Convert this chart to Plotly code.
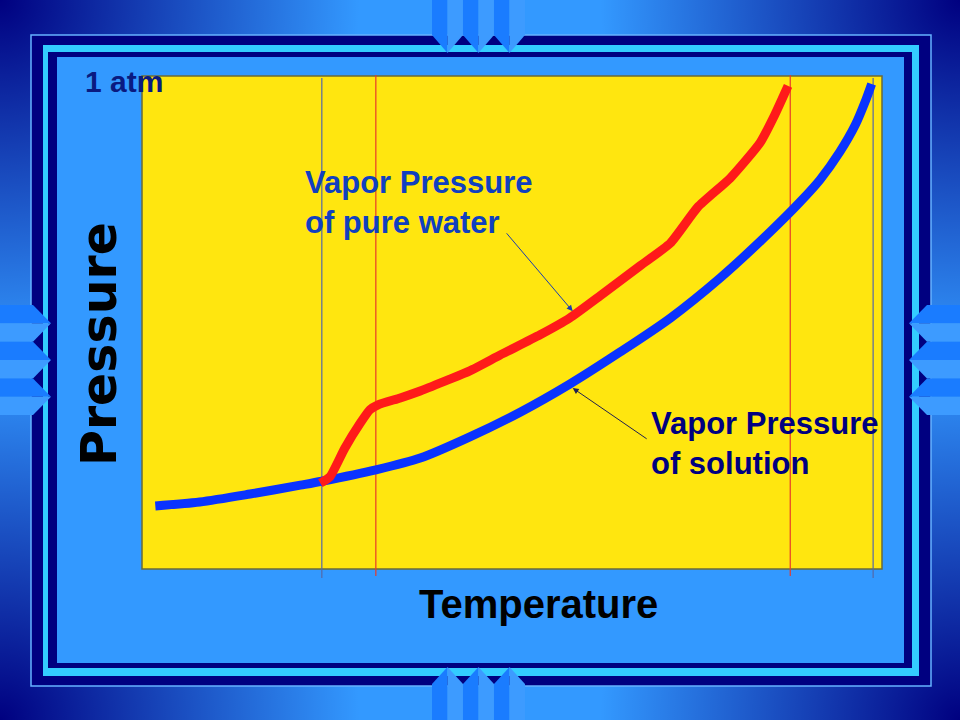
import base64
import plotly.graph_objects as go

# ---------------- data ----------------
solution_T = [1.8, 7.8, 14.6, 21.4, 24.3, 31.6, 37.6, 44.3, 51.1, 57.8, 64.6,
              71.4, 78.1, 84.9, 88.9, 91.6, 94.3, 96.4, 97.7, 98.6]
solution_P = [12.8, 13.6, 15.2, 17.0, 17.8, 20.1, 22.5, 26.8, 31.8, 37.5, 44.0,
              50.9, 59.0, 68.4, 74.4, 78.9, 84.6, 90.1, 94.7, 98.4]

water_T = [24.1, 25.4, 27.4, 29.5, 30.8, 31.9, 34.9, 37.6, 41.6, 44.3, 48.4,
           53.8, 57.8, 61.9, 67.3, 71.4, 75.1, 79.5, 83.5, 85.5, 87.3]
water_P = [17.4, 18.7, 24.5, 29.6, 32.3, 33.3, 34.7, 36.1, 38.5, 40.2, 43.4,
           47.5, 50.9, 55.4, 61.5, 66.1, 73.4, 79.3, 86.4, 92.1, 98.0]

gray_marks_T = [24.3, 98.8]   # thin gray-blue vertical guides
red_marks_T = [31.6, 87.6]    # thin red vertical guides

label_top = "1 atm"
label_water = "Vapor Pressure<br>of pure water"
label_solution = "Vapor Pressure<br>of solution"
x_title = "Temperature"
y_title = "Pressure"

# arrow (head, tail) in data units
arrow_water = dict(head=(58.2, 52.3), tail=(49.1, 68.4))
arrow_solution = dict(head=(58.2, 36.7), tail=(68.4, 26.2))

# ---------------- layout helpers ----------------
W, H = 960, 720
def px(x):
    return x / W
def py(y):
    return 1 - y / H

NAVY = "#000080"
CYAN = "#33CCFF"
PANEL = "#3399FF"
TAB_DARK = "#1A7CFF"
TAB_LIGHT = "#3D9BFF"

# background gradient (light centre, navy corners)
corners = "".join(
    f'<circle cx="{cx}" cy="{cy}" r="360" fill="url(#g)"/>'
    for cx, cy in [(0, 0), (W, 0), (0, H), (W, H)]
)
svg = (
    f'<svg xmlns="http://www.w3.org/2000/svg" width="{W}" height="{H}" viewBox="0 0 {W} {H}">'
    '<defs><radialGradient id="g" cx="0.5" cy="0.5" r="0.5">'
    '<stop offset="0" stop-color="#000080" stop-opacity="1"/>'
    '<stop offset="0.5" stop-color="#000080" stop-opacity="0.5"/>'
    '<stop offset="1" stop-color="#000080" stop-opacity="0"/>'
    '</radialGradient></defs>'
    f'<rect width="{W}" height="{H}" fill="#3399FF"/>' + corners + '</svg>'
)
bg_uri = "data:image/svg+xml;base64," + base64.b64encode(svg.encode()).decode()

shapes = []
def rect(x0, y0, x1, y1, fill, line_color=None, lw=0):
    shapes.append(dict(type="rect", xref="paper", yref="paper",
                       x0=px(x0), x1=px(x1), y0=py(y1), y1=py(y0),
                       fillcolor=fill, line=dict(color=line_color or fill, width=lw),
                       layer="below"))

def poly(pts, fill):
    path = "M " + " L ".join(f"{px(x):.5f},{py(y):.5f}" for x, y in pts) + " Z"
    shapes.append(dict(type="path", xref="paper", yref="paper", path=path,
                       fillcolor=fill, line=dict(width=0), layer="below"))

# frame
rect(31, 35, 931, 686, NAVY, "#66B2FF", 1.5)
rect(43, 45, 919, 676, CYAN)
rect(48, 52, 912, 668, NAVY)
rect(57, 57, 904, 663, PANEL)

# tabs top / bottom
for i in range(3):
    x0 = 432 + 31 * i
    xm = x0 + 15.5
    x1 = x0 + 31
    poly([(x0, 0), (xm, 0), (xm, 53), (x0, 35)], TAB_DARK)
    poly([(xm, 0), (x1, 0), (x1, 35), (xm, 53)], TAB_LIGHT)
    poly([(x0, 720), (x0, 684), (xm, 667), (xm, 720)], TAB_DARK)
    poly([(xm, 720), (xm, 667), (x1, 684), (x1, 720)], TAB_LIGHT)

# tabs left / right
for i in range(3):
    y0 = 305 + 36.7 * i
    ym = y0 + 18.35
    y1 = y0 + 36.7
    poly([(0, y0), (33, y0), (51, ym), (0, ym)], TAB_DARK)
    poly([(0, ym), (51, ym), (33, y1), (0, y1)], TAB_LIGHT)
    poly([(960, y0), (927, y0), (909, ym), (960, ym)], TAB_DARK)
    poly([(960, ym), (909, ym), (927, y1), (960, y1)], TAB_LIGHT)

# plot area (yellow)
shapes.append(dict(type="rect", xref="x domain", yref="y domain", x0=0, x1=1, y0=0, y1=1,
                   fillcolor="#FFE60F", line=dict(color="#6B6B3A", width=1.5), layer="below"))

# vertical guides
for t in gray_marks_T:
    shapes.append(dict(type="line", xref="x", yref="paper", x0=t, x1=t,
                       y0=py(578), y1=py(78), line=dict(color="#5468A8", width=1.2),
                       layer="below"))
for t in red_marks_T:
    shapes.append(dict(type="line", xref="x", yref="paper", x0=t, x1=t,
                       y0=py(576), y1=py(75), line=dict(color="#E83A2A", width=1.2),
                       layer="below"))

fig = go.Figure()
fig.add_trace(go.Scatter(x=solution_T, y=solution_P, mode="lines",
                         line=dict(color="#0A33FF", width=9, shape="spline", smoothing=0.8),
                         showlegend=False, hoverinfo="skip"))
fig.add_trace(go.Scatter(x=water_T, y=water_P, mode="lines",
                         line=dict(color="#FF1A1A", width=9, shape="spline", smoothing=0.5),
                         showlegend=False, hoverinfo="skip"))

FONT = "Liberation Sans, Arial, sans-serif"
annotations = [
    dict(xref="paper", yref="paper", x=px(83), y=py(81), xanchor="left", yanchor="middle",
         text=f"<b>{label_top}</b>", showarrow=False,
         font=dict(family=FONT, size=30, color="#0A1A80")),
    dict(xref="paper", yref="paper", x=px(303), y=py(202), xanchor="left", yanchor="middle",
         text=f"<b>{label_water}</b>", showarrow=False, align="left",
         font=dict(family=FONT, size=31, color="#1040C0")),
    dict(xref="paper", yref="paper", x=px(649), y=py(443), xanchor="left", yanchor="middle",
         text=f"<b>{label_solution}</b>", showarrow=False, align="left",
         font=dict(family=FONT, size=31, color="#000080")),
    dict(xref="paper", yref="paper", x=px(538), y=py(604), xanchor="center", yanchor="middle",
         text=f"<b>{x_title}</b>", showarrow=False,
         font=dict(family=FONT, size=40, color="#000000")),
    dict(xref="paper", yref="paper", x=px(99), y=py(344), xanchor="center", yanchor="middle",
         text=f"<b>{y_title}</b>", showarrow=False, textangle=-90,
         font=dict(family="DejaVu Sans, sans-serif", size=49, color="#000000")),
    dict(x=arrow_water["head"][0], y=arrow_water["head"][1], xref="x", yref="y",
         ax=arrow_water["tail"][0], ay=arrow_water["tail"][1], axref="x", ayref="y",
         text="", showarrow=True, arrowhead=2, arrowsize=1.2, arrowwidth=1,
         arrowcolor="#1A3CB0"),
    dict(x=arrow_solution["head"][0], y=arrow_solution["head"][1], xref="x", yref="y",
         ax=arrow_solution["tail"][0], ay=arrow_solution["tail"][1], axref="x", ayref="y",
         text="", showarrow=True, arrowhead=2, arrowsize=1.2, arrowwidth=1,
         arrowcolor="#202050"),
]

fig.update_layout(
    width=W, height=H,
    margin=dict(l=0, r=0, t=0, b=0),
    paper_bgcolor=PANEL,
    plot_bgcolor="rgba(0,0,0,0)",
    xaxis=dict(domain=[px(142), px(882)], range=[0, 100], visible=False, fixedrange=True),
    yaxis=dict(domain=[py(569), py(76)], range=[0, 100], visible=False, fixedrange=True),
    shapes=shapes,
    annotations=annotations,
    images=[dict(source=bg_uri, xref="paper", yref="paper", x=0, y=1, sizex=1, sizey=1,
                 xanchor="left", yanchor="top", sizing="stretch", layer="below")],
    showlegend=False,
)

fig.write_html(
    "out.html",
    config={"displayModeBar": False, "staticPlot": True},
    post_script="document.body.style.margin='0';document.body.style.overflow='hidden';",
)
